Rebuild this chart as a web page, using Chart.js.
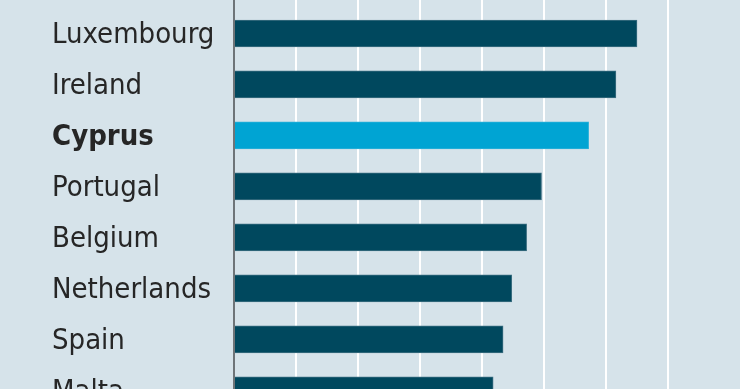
<!DOCTYPE html>
<html>
<head>
<meta charset="utf-8">
<script src="https://cdn.jsdelivr.net/npm/chart.js@4"></script>
<style>
  html, body { margin: 0; padding: 0; background: #d6e3ea; overflow: hidden; }
  canvas { display: block; }
</style>
</head>
<body>
<canvas id="myChart" width="740" height="423"></canvas>
<script>
const countries = ["Luxembourg", "Ireland", "Cyprus", "Portugal", "Belgium", "Netherlands", "Spain", "Malta"];
const values = [32.5, 30.8, 28.6, 24.8, 23.6, 22.4, 21.7, 20.9];
const highlight = "Cyprus";

const dark = "#00485e";
const light = "#00a4d3";

const ctx = document.getElementById("myChart");

let ch = new Chart(ctx, {
  type: "bar",
  data: {
    labels: countries,
    datasets: [
      {
        data: values,
        backgroundColor: countries.map(c => c === highlight ? light : dark),
        borderColor: countries.map(c => c === highlight ? "#2bb0d8" : "#3d6f82"),
        borderWidth: 1,
        borderSkipped: "left",
        barThickness: 27,
      },
    ],
  },
  options: {
    indexAxis: "y",
    responsive: false,
    animation: false,
    layout: { padding: { left: 52, right: 72, top: 0, bottom: 0 } },
    plugins: { legend: { display: false }, tooltip: { enabled: false } },
    scales: {
      x: {
        position: "top",
        min: 0,
        max: 35,
        ticks: { display: false, stepSize: 5 },
        border: { display: false },
        grid: {
          drawTicks: true,
          tickLength: 8,
          color: c => c.tick && c.tick.value === 0 ? "#6e7478" : "#ffffff",
          lineWidth: 2,
        },
      },
      y: {
        border: { display: false },
        grid: { display: false },
        afterFit: s => { s.width = 182; },
        ticks: {
          crossAlign: "far",
          padding: 0,
          labelOffset: 2,
          color: "#262626",
          font: c => ({
            family: "'DejaVu Sans Condensed', 'Liberation Sans Narrow', 'Roboto Condensed', sans-serif",
            size: 29,
            lineHeight: 0.5,
            weight: countries[c.index] === highlight ? "bold" : "normal",
          }),
        },
      },
    },
  },
});
</script>
</body>
</html>
